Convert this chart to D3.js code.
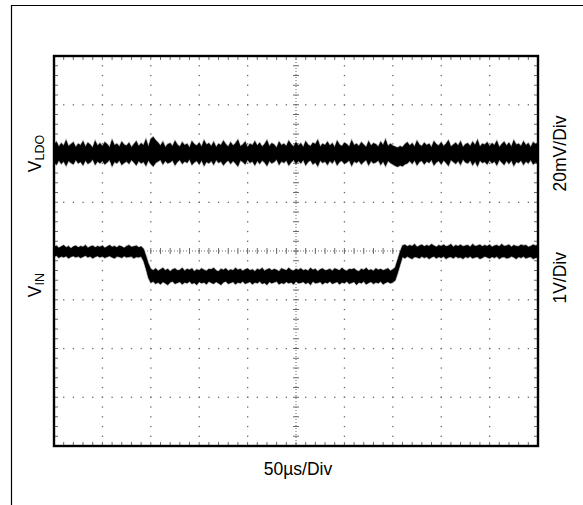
<!DOCTYPE html>
<html>
<head>
<meta charset="utf-8">
<script src="https://cdn.jsdelivr.net/npm/d3@7"></script>
<style>
  html, body { margin: 0; padding: 0; background: #fff; }
  svg { display: block; }
  text { font-family: "Liberation Sans", Arial, sans-serif; fill: #000; }
</style>
</head>
<body>
<svg id="chart" width="583" height="505"></svg>
<script>
// Time axis: 10 divisions x 50 µs, envelope samples every 2.5 µs (201 samples)
const timeDivUs = 50;
const sampleStepUs = 2.5;
const yDivisions = [-4, 4];

// Channel labels
const leftLabels = [
  { main: "V", sub: "LDO", level: 2.0 },
  { main: "V", sub: "IN", level: -0.7 }
];
const rightLabels = [
  { text: "20mV/Div", level: 2.0 },
  { text: "1V/Div", level: -0.55 }
];
const xLabel = "50µs/Div";

// V_LDO trace: upper / lower noise envelope, in screen divisions
const vldoHi = [
  2.18,2.24,2.14,2.21,2.16,2.27,2.15,2.19,2.23,2.13,2.20,2.17,2.25,2.14,2.22,2.18,2.12,2.26,2.16,2.21,
  2.15,2.23,2.19,2.13,2.28,2.17,2.20,2.14,2.24,2.18,2.16,2.22,2.13,2.19,2.25,2.15,2.21,2.17,2.29,2.14,
  2.30,2.34,2.27,2.22,2.16,2.24,2.13,2.19,2.21,2.15,2.26,2.18,2.14,2.23,2.17,2.20,2.12,2.25,2.19,2.16,
  2.22,2.14,2.27,2.18,2.21,2.15,2.24,2.13,2.20,2.17,2.26,2.19,2.14,2.23,2.16,2.21,2.28,2.15,2.18,2.24,
  2.13,2.20,2.17,2.25,2.16,2.22,2.14,2.19,2.27,2.15,2.21,2.18,2.12,2.24,2.17,2.20,2.15,2.26,2.19,2.14,
  2.23,2.16,2.21,2.13,2.25,2.18,2.15,2.22,2.19,2.28,2.14,2.20,2.17,2.24,2.16,2.21,2.13,2.26,2.18,2.15,
  2.22,2.19,2.14,2.27,2.17,2.20,2.15,2.23,2.18,2.13,2.25,2.16,2.21,2.19,2.14,2.24,2.17,2.29,2.15,2.20,
  2.16,2.14,2.12,2.15,2.13,2.19,2.23,2.16,2.21,2.14,2.26,2.18,2.15,2.22,2.17,2.20,2.13,2.25,2.19,2.16,
  2.23,2.15,2.20,2.27,2.14,2.18,2.22,2.16,2.25,2.13,2.19,2.21,2.15,2.24,2.17,2.28,2.14,2.20,2.18,2.23,
  2.15,2.21,2.17,2.26,2.13,2.19,2.24,2.16,2.22,2.14,2.27,2.18,2.20,2.15,2.25,2.17,2.21,2.13,2.23,2.19,
  2.22
];
const vldoLo = [
  1.82,1.77,1.86,1.79,1.84,1.75,1.85,1.81,1.78,1.87,1.80,1.83,1.76,1.86,1.79,1.82,1.88,1.77,1.84,1.80,
  1.85,1.78,1.82,1.87,1.74,1.83,1.80,1.86,1.77,1.81,1.84,1.79,1.87,1.82,1.76,1.85,1.80,1.83,1.75,1.86,
  1.79,1.74,1.81,1.84,1.87,1.78,1.85,1.80,1.82,1.86,1.76,1.83,1.87,1.79,1.84,1.81,1.88,1.77,1.82,1.85,
  1.78,1.86,1.75,1.83,1.80,1.85,1.77,1.87,1.81,1.84,1.76,1.82,1.86,1.79,1.85,1.80,1.74,1.86,1.83,1.78,
  1.87,1.81,1.84,1.76,1.85,1.79,1.86,1.82,1.75,1.85,1.80,1.83,1.88,1.77,1.84,1.81,1.86,1.76,1.82,1.87,
  1.79,1.85,1.80,1.87,1.76,1.83,1.86,1.78,1.82,1.74,1.86,1.81,1.84,1.77,1.85,1.80,1.87,1.76,1.83,1.85,
  1.79,1.82,1.86,1.75,1.84,1.81,1.85,1.78,1.83,1.87,1.76,1.85,1.80,1.82,1.86,1.77,1.84,1.74,1.85,1.81,
  1.78,1.75,1.73,1.76,1.74,1.78,1.80,1.85,1.79,1.86,1.76,1.83,1.85,1.78,1.84,1.81,1.87,1.76,1.82,1.85,
  1.78,1.86,1.81,1.75,1.87,1.83,1.79,1.85,1.77,1.88,1.82,1.80,1.86,1.76,1.84,1.74,1.86,1.81,1.83,1.78,
  1.86,1.80,1.84,1.76,1.87,1.82,1.77,1.85,1.79,1.86,1.75,1.83,1.81,1.86,1.77,1.84,1.80,1.87,1.78,1.82,
  1.79
];

// V_IN trace: upper / lower noise envelope, in screen divisions
const vinHi = [
  0.08,0.11,0.06,0.09,0.12,0.07,0.10,0.05,0.09,0.11,0.07,0.10,0.08,0.12,0.06,0.09,0.11,0.07,0.10,0.08,
  0.11,0.06,0.09,0.12,0.08,0.10,0.07,0.11,0.09,0.06,0.10,0.12,0.08,0.09,0.11,0.07,0.09,0.04,-0.10,-0.26,
  -0.37,-0.40,-0.36,-0.41,-0.38,-0.35,-0.40,-0.37,-0.42,-0.38,-0.36,-0.40,-0.39,-0.35,-0.41,-0.37,-0.39,-0.36,-0.42,-0.38,
  -0.40,-0.36,-0.39,-0.41,-0.37,-0.38,-0.35,-0.40,-0.42,-0.37,-0.39,-0.36,-0.41,-0.38,-0.40,-0.35,-0.39,-0.37,-0.41,-0.38,
  -0.36,-0.40,-0.38,-0.42,-0.37,-0.39,-0.35,-0.41,-0.38,-0.36,-0.40,-0.37,-0.39,-0.42,-0.36,-0.38,-0.40,-0.35,-0.39,-0.41,
  -0.37,-0.39,-0.36,-0.40,-0.38,-0.41,-0.35,-0.39,-0.37,-0.42,-0.38,-0.36,-0.40,-0.39,-0.37,-0.41,-0.36,-0.38,-0.40,-0.35,
  -0.39,-0.41,-0.37,-0.38,-0.36,-0.40,-0.42,-0.37,-0.39,-0.35,-0.40,-0.38,-0.41,-0.36,-0.39,-0.37,-0.40,-0.38,-0.36,-0.41,
  -0.38,-0.34,-0.18,-0.02,0.11,0.13,0.09,0.12,0.10,0.14,0.08,0.11,0.13,0.09,0.12,0.10,0.14,0.11,0.08,0.12,
  0.10,0.13,0.09,0.11,0.14,0.08,0.12,0.10,0.13,0.09,0.11,0.12,0.08,0.14,0.10,0.11,0.13,0.09,0.12,0.10,
  0.13,0.08,0.11,0.12,0.09,0.14,0.10,0.11,0.13,0.08,0.12,0.10,0.09,0.13,0.11,0.12,0.08,0.10,0.13,0.11,
  0.12
];
const vinLo = [
  -0.12,-0.09,-0.14,-0.11,-0.13,-0.10,-0.15,-0.12,-0.10,-0.13,-0.11,-0.14,-0.12,-0.09,-0.13,-0.11,-0.15,-0.12,-0.10,-0.13,
  -0.11,-0.14,-0.12,-0.10,-0.13,-0.15,-0.11,-0.12,-0.14,-0.10,-0.13,-0.12,-0.11,-0.15,-0.12,-0.13,-0.11,-0.20,-0.36,-0.55,
  -0.65,-0.62,-0.67,-0.64,-0.68,-0.63,-0.66,-0.69,-0.64,-0.62,-0.67,-0.65,-0.63,-0.68,-0.64,-0.66,-0.62,-0.67,-0.65,-0.69,
  -0.63,-0.66,-0.64,-0.68,-0.62,-0.65,-0.67,-0.63,-0.66,-0.69,-0.64,-0.62,-0.67,-0.65,-0.63,-0.68,-0.64,-0.66,-0.62,-0.67,
  -0.65,-0.63,-0.68,-0.64,-0.66,-0.62,-0.67,-0.65,-0.69,-0.63,-0.66,-0.64,-0.62,-0.68,-0.65,-0.67,-0.63,-0.66,-0.64,-0.68,
  -0.62,-0.66,-0.65,-0.63,-0.67,-0.64,-0.69,-0.62,-0.66,-0.65,-0.63,-0.68,-0.64,-0.66,-0.62,-0.67,-0.65,-0.63,-0.68,-0.64,
  -0.66,-0.62,-0.67,-0.65,-0.63,-0.69,-0.64,-0.66,-0.62,-0.68,-0.65,-0.63,-0.67,-0.64,-0.66,-0.62,-0.68,-0.65,-0.63,-0.66,
  -0.64,-0.60,-0.45,-0.28,-0.12,-0.15,-0.11,-0.14,-0.16,-0.12,-0.13,-0.15,-0.11,-0.14,-0.12,-0.16,-0.13,-0.11,-0.15,-0.12,
  -0.14,-0.11,-0.16,-0.13,-0.12,-0.15,-0.11,-0.14,-0.13,-0.16,-0.12,-0.14,-0.11,-0.15,-0.13,-0.12,-0.16,-0.14,-0.11,-0.13,
  -0.15,-0.12,-0.14,-0.11,-0.16,-0.13,-0.12,-0.15,-0.14,-0.11,-0.13,-0.16,-0.12,-0.14,-0.11,-0.15,-0.13,-0.12,-0.16,-0.14,
  -0.13
];

// ---- Layout ----
const svg = d3.select("#chart");
const plot = { left: 54, right: 538, top: 56, bottom: 446 };
const nXDiv = 10;
const x = d3.scaleLinear().domain([0, nXDiv * timeDivUs]).range([plot.left, plot.right]);
const y = d3.scaleLinear().domain(yDivisions).range([plot.bottom, plot.top]);
const tAt = i => i * sampleStepUs;

// Outer frame (left and top lines)
svg.append("path")
  .attr("d", `M11.5,505 L11.5,5.5 L583,5.5`)
  .attr("fill", "none").attr("stroke", "#000").attr("stroke-width", 1.2);

const grid = svg.append("g");
const gridColor = "#6a6a6a";
const minorUs = timeDivUs / 5;
const minorDiv = 0.2;
const xMinor = d3.range(minorUs, nXDiv * timeDivUs, minorUs);
const yMinor = d3.range(-3.8, 3.81, minorDiv).map(v => +v.toFixed(2));
const xMajor = d3.range(timeDivUs, nXDiv * timeDivUs, timeDivUs).filter(t => t !== 250);
const yMajor = [-3, -2, -1, 1, 2, 3];

// Dotted vertical grid lines
xMajor.forEach(t => {
  grid.selectAll(null).data(yMinor).enter().append("rect")
    .attr("x", x(t) - 0.6).attr("y", d => y(d) - 0.6)
    .attr("width", 1.3).attr("height", 1.3).attr("fill", gridColor);
});
// Dotted horizontal grid lines
yMajor.forEach(v => {
  grid.selectAll(null).data(xMinor).enter().append("rect")
    .attr("x", d => x(d) - 0.6).attr("y", y(v) - 0.6)
    .attr("width", 1.3).attr("height", 1.3).attr("fill", gridColor);
});
// Center cross lines
grid.append("line").attr("x1", x(250)).attr("x2", x(250)).attr("y1", plot.top).attr("y2", plot.bottom)
  .attr("stroke", gridColor).attr("stroke-width", 1).attr("stroke-dasharray", "1,2");
grid.append("line").attr("x1", plot.left).attr("x2", plot.right).attr("y1", y(0)).attr("y2", y(0))
  .attr("stroke", gridColor).attr("stroke-width", 1).attr("stroke-dasharray", "1,2");
grid.selectAll(null).data(yMinor).enter().append("line")
  .attr("x1", x(250) - 3).attr("x2", x(250) + 3).attr("y1", d => y(d)).attr("y2", d => y(d))
  .attr("stroke", gridColor).attr("stroke-width", 1);
grid.selectAll(null).data(xMinor).enter().append("line")
  .attr("x1", d => x(d)).attr("x2", d => x(d)).attr("y1", y(0) - 3).attr("y2", y(0) + 3)
  .attr("stroke", gridColor).attr("stroke-width", 1);
// Border ticks
grid.selectAll(null).data(xMinor).enter().append("line")
  .attr("x1", d => x(d)).attr("x2", d => x(d)).attr("y1", plot.top).attr("y2", plot.top + 4)
  .attr("stroke", gridColor).attr("stroke-width", 1);
grid.selectAll(null).data(xMinor).enter().append("line")
  .attr("x1", d => x(d)).attr("x2", d => x(d)).attr("y1", plot.bottom - 4).attr("y2", plot.bottom)
  .attr("stroke", gridColor).attr("stroke-width", 1);
grid.selectAll(null).data(yMinor).enter().append("line")
  .attr("x1", plot.left).attr("x2", plot.left + 4).attr("y1", d => y(d)).attr("y2", d => y(d))
  .attr("stroke", gridColor).attr("stroke-width", 1);
grid.selectAll(null).data(yMinor).enter().append("line")
  .attr("x1", plot.right - 4).attr("x2", plot.right).attr("y1", d => y(d)).attr("y2", d => y(d))
  .attr("stroke", gridColor).attr("stroke-width", 1);

// ---- Traces ----
const traces = svg.append("g");
function drawTrace(hi, lo) {
  const pts = hi.map((h, i) => ({ t: tAt(i), hi: h, lo: lo[i] }));
  const area = d3.area().x(d => x(d.t)).y0(d => y(d.lo)).y1(d => y(d.hi));
  // soft fringe
  traces.append("path").datum(pts).attr("d", area)
    .attr("fill", "#000").attr("stroke", "#555").attr("stroke-width", 1.6)
    .attr("stroke-opacity", 0.55).attr("stroke-linejoin", "miter");
  // dense core
  traces.append("path").datum(pts).attr("d", area)
    .attr("fill", "#000").attr("stroke", "none");
}
drawTrace(vldoHi, vldoLo);
drawTrace(vinHi, vinLo);

// Plot border
svg.append("rect")
  .attr("x", plot.left).attr("y", plot.top)
  .attr("width", plot.right - plot.left).attr("height", plot.bottom - plot.top)
  .attr("fill", "none").attr("stroke", "#000").attr("stroke-width", 2.4);

// ---- Labels ----
const fs = 17.5;
leftLabels.forEach(l => {
  const t = svg.append("text")
    .attr("transform", `translate(41,${y(l.level)}) rotate(-90)`)
    .attr("text-anchor", "middle").attr("font-size", fs);
  t.append("tspan").text(l.main);
  t.append("tspan").attr("font-size", 12.5).attr("dy", 3).text(l.sub);
});
rightLabels.forEach(l => {
  svg.append("text")
    .attr("transform", `translate(566,${y(l.level)}) rotate(-90)`)
    .attr("text-anchor", "middle").attr("font-size", fs)
    .text(l.text);
});
svg.append("text")
  .attr("x", 298).attr("y", 475)
  .attr("text-anchor", "middle").attr("font-size", fs)
  .text(xLabel);
</script>
</body>
</html>
